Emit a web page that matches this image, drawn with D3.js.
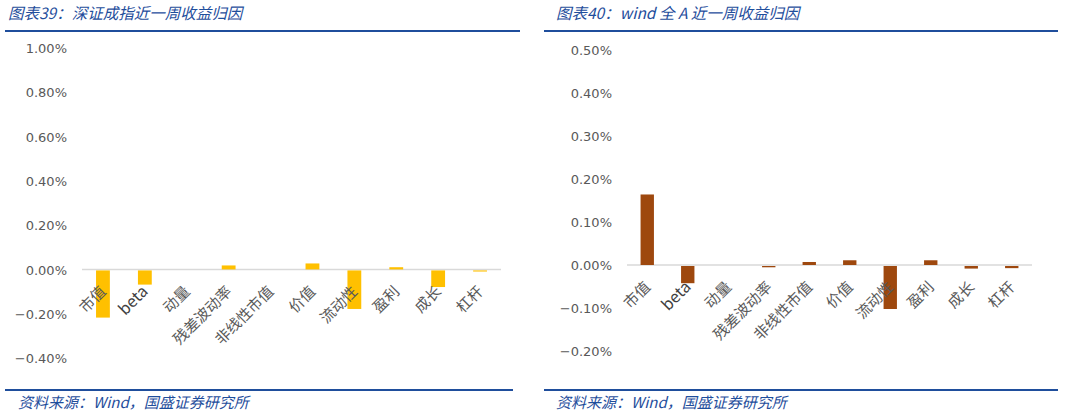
<!DOCTYPE html>
<html>
<head>
<meta charset="utf-8">
<script src="https://cdn.jsdelivr.net/npm/d3@7"></script>
<style>
  body { margin: 0; background: #fff; }
  svg { display: block; }
  .title, .source { font-family: "Noto Sans CJK SC", sans-serif; font-style: italic; fill: #1f4e9c; }
  .tick-label { font-family: "DejaVu Sans", sans-serif; font-size: 13px; fill: #595959; }
  .cat-label { font-family: "Noto Sans CJK SC", "DejaVu Sans", sans-serif; font-size: 15px; fill: #595959; }
</style>
</head>
<body>
<svg id="chart" width="1065" height="415"></svg>
<script>
// factor categories, shared by both charts
const categories = ["市值", "beta", "动量", "残差波动率", "非线性市值", "价值", "流动性", "盈利", "成长", "杠杆"];

// weekly return attribution, in percent
const szValues = [-0.213, -0.064, 0, 0.018, 0, 0.027, -0.174, 0.010, -0.075, -0.005];
const wdValues = [0.164, -0.040, 0, -0.003, 0.007, 0.011, -0.100, 0.011, -0.006, -0.005];

// y axis ticks, in percent
const szTicks = [-0.4, -0.2, 0, 0.2, 0.4, 0.6, 0.8, 1.0];
const wdTicks = [-0.2, -0.1, 0, 0.1, 0.2, 0.3, 0.4, 0.5];

const svg = d3.select("#chart");

function drawPanel(opt) {
    let g = svg.append("g");

    // title and header rule
    g.append("text")
        .attr("class", "title")
        .attr("x", opt.titleX)
        .attr("y", 19)
        .style("font-size", "15.5px")
        .text(opt.title);
    g.append("line")
        .attr("x1", opt.ruleX1).attr("x2", opt.ruleX2)
        .attr("y1", 31).attr("y2", 31)
        .attr("stroke", "#1f4e9c").attr("stroke-width", 2);

    // footer rule and source
    g.append("line")
        .attr("x1", opt.ruleX1).attr("x2", opt.footX2)
        .attr("y1", 390).attr("y2", 390)
        .attr("stroke", "#1f4e9c").attr("stroke-width", 2);
    g.append("text")
        .attr("class", "source")
        .attr("x", opt.sourceX)
        .attr("y", 408)
        .style("font-size", "15px")
        .text("资料来源：Wind，国盛证券研究所");

    const x = d3.scaleBand()
        .domain(categories)
        .range([opt.plotX1, opt.plotX2])
        .paddingInner(0.67)
        .paddingOuter(0.335);

    const y = d3.scaleLinear()
        .domain(d3.extent(opt.ticks))
        .range([opt.yBottom, opt.yTop]);

    // y axis labels only (no axis line)
    const yAxis = d3.axisLeft(y)
        .tickValues(opt.ticks)
        .tickSize(0)
        .tickPadding(0)
        .tickFormat(d => d3.format(".2f")(d) + "%");
    let ya = g.append("g")
        .attr("transform", "translate(" + opt.labelX + ",0)")
        .call(yAxis);
    ya.select(".domain").remove();
    ya.selectAll("text")
        .attr("class", "tick-label")
        .attr("font-family", null)
        .attr("font-size", null)
        .attr("fill", null)
        .attr("dy", "0.36em");

    // zero line
    g.append("line")
        .attr("x1", opt.plotX1).attr("x2", opt.plotX2)
        .attr("y1", y(0)).attr("y2", y(0))
        .attr("stroke", "#d9d9d9").attr("stroke-width", 1.5);

    // bars
    g.selectAll(".bar")
        .data(opt.values)
        .enter().append("rect")
        .attr("class", "bar")
        .attr("x", (d, i) => x(categories[i]))
        .attr("width", x.bandwidth())
        .attr("y", d => y(Math.max(0, d)) + (d < 0 ? 1 : 0))
        .attr("height", d => Math.abs(y(d) - y(0)))
        .attr("fill", opt.color);

    // category labels, rotated, right under the zero line (drawn over the bars)
    g.selectAll(".cat-label")
        .data(categories)
        .enter().append("text")
        .attr("class", "cat-label")
        .attr("text-anchor", "end")
        .style("fill", d => d == "beta" ? "#404040" : null)
        .style("font-size", d => d == "beta" ? "16px" : null)
        .attr("transform", d => "translate(" + (x(d) + x.bandwidth() / 2 + 4) + "," + (y(0) + 23) + ") rotate(-45)")
        .text(d => d);
}

drawPanel({
    title: "图表39：深证成指近一周收益归因",
    titleX: 8, ruleX1: 5, ruleX2: 520, footX2: 513, sourceX: 18,
    plotX1: 82, plotX2: 501,
    yTop: 48, yBottom: 358, labelX: 67,
    ticks: szTicks, values: szValues, color: "#ffc000"
});

drawPanel({
    title: "图表40：wind 全 A 近一周收益归因",
    titleX: 556, ruleX1: 544, ruleX2: 1058, footX2: 1058, sourceX: 556,
    plotX1: 627, plotX2: 1032,
    yTop: 50, yBottom: 351, labelX: 612,
    ticks: wdTicks, values: wdValues, color: "#9e480e"
});
</script>
</body>
</html>
